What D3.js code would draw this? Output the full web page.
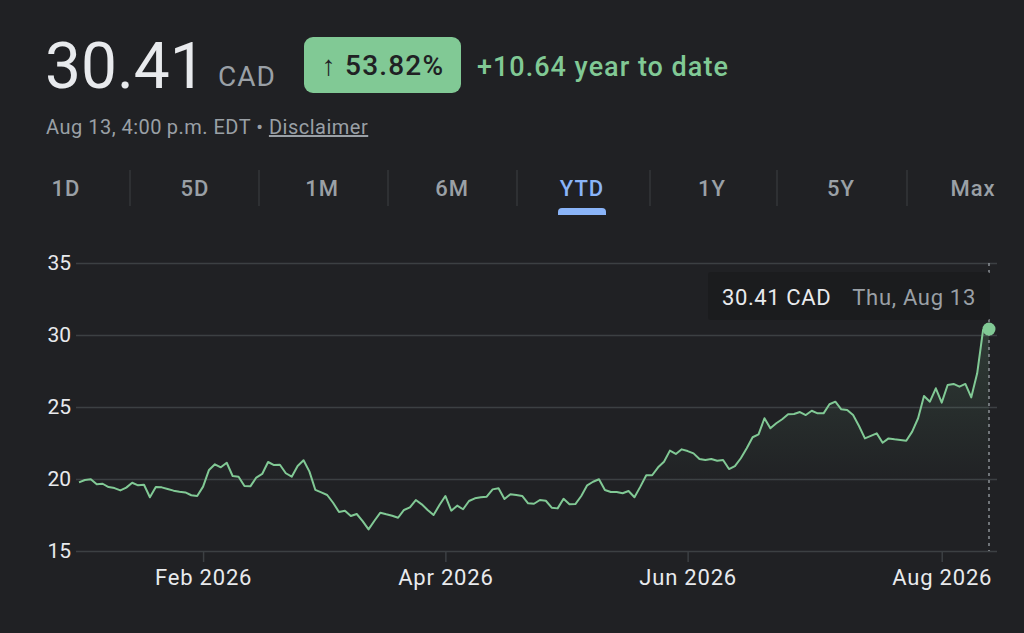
<!DOCTYPE html>
<html>
<head>
<meta charset="utf-8">
<script src="https://cdn.jsdelivr.net/npm/d3@7"></script>
<style>
  html, body { margin: 0; padding: 0; background: #202124; }
  svg { display: block; font-family: Roboto, "Noto Sans", sans-serif; }
</style>
</head>
<body>
<div id="chart"></div>
<script>
// closing prices, one per trading day from Dec 31 to Aug 13
var values = [
  19.77, 19.93, 19.98, 19.63, 19.67, 19.44, 19.37, 19.21, 19.40, 19.74,
  19.56, 19.60, 18.73, 19.44, 19.42, 19.31, 19.19, 19.12, 19.07, 18.87,
  18.82, 19.47, 20.63, 21.02, 20.81, 21.13, 20.21, 20.16, 19.51, 19.49,
  20.10, 20.35, 21.18, 20.97, 20.99, 20.40, 20.16, 20.90, 21.30, 20.51,
  19.24, 19.07, 18.89, 18.35, 17.71, 17.80, 17.43, 17.57, 17.08, 16.50,
  17.10, 17.66, 17.55, 17.45, 17.31, 17.85, 18.03, 18.54, 18.24, 17.85,
  17.50, 18.19, 18.82, 17.80, 18.15, 17.90, 18.47, 18.66, 18.73, 18.77,
  19.28, 19.35, 18.61, 18.94, 18.89, 18.82, 18.31, 18.28, 18.54, 18.49,
  18.01, 17.96, 18.63, 18.24, 18.26, 18.82, 19.56, 19.81, 19.98, 19.24,
  19.10, 19.09, 19.01, 19.17, 18.73, 19.47, 20.26, 20.26, 20.81, 21.20,
  21.97, 21.74, 22.06, 21.94, 21.78, 21.39, 21.32, 21.39, 21.27, 21.32,
  20.69, 20.90, 21.44, 22.13, 22.90, 23.10, 24.22, 23.52, 23.87, 24.15,
  24.49, 24.51, 24.65, 24.44, 24.74, 24.56, 24.56, 25.19, 25.37, 24.84,
  24.79, 24.44, 23.68, 22.82, 22.99, 23.17, 22.52, 22.82, 22.76, 22.71,
  22.66, 23.29, 24.22, 25.76, 25.37, 26.30, 25.30, 26.53, 26.60, 26.41,
  26.60, 25.67, 27.34, 30.35, 30.41
];
// index of the first trading day of each labelled month
var monthTickIdx = [21, 62, 103, 146];
var monthTickLabels = ["Feb 2026", "Apr 2026", "Jun 2026", "Aug 2026"];
var yTicks = [15, 20, 25, 30, 35];
var tabs = ["1D", "5D", "1M", "6M", "YTD", "1Y", "5Y", "Max"];
var activeTab = "YTD";
var price = "30.41";
var currency = "CAD";
var changePct = "53.82%";
var changeAbs = "+10.64";
var lastDate = "Thu, Aug 13";

var W = 1024, H = 633;
var green = "#81c995", grey = "#9aa0a6", grid = "#3c4043", light = "#e8eaed";

var svg = d3.select("#chart").append("svg").attr("width", W).attr("height", H);
svg.append("rect").attr("width", W).attr("height", H).attr("fill", "#202124");

// header
svg.append("text").attr("x", 45).attr("y", 88).attr("fill", light)
    .style("font-size", "64px").text(price);
svg.append("text").attr("x", 218).attr("y", 86).attr("fill", grey)
    .style("font-size", "28px").style("letter-spacing", "1px").text(currency);
svg.append("rect").attr("x", 304).attr("y", 37).attr("width", 157).attr("height", 56)
    .attr("rx", 9).attr("fill", green);
svg.append("text").attr("x", 383).attr("y", 75).attr("text-anchor", "middle")
    .attr("fill", "#202124").style("font-size", "28px").style("font-weight", 500)
    .style("letter-spacing", "1.2px")
    .text("\u2191 " + changePct);
svg.append("text").attr("x", 477).attr("y", 76).attr("fill", green)
    .style("font-size", "27px").style("font-weight", 500).style("letter-spacing", "1px")
    .text(changeAbs + " year to date");

var sub = svg.append("text").attr("x", 46).attr("y", 134).attr("fill", grey)
    .style("font-size", "20px").style("letter-spacing", "0.5px");
sub.append("tspan").text("Aug 13, 4:00\u2009p.m. EDT \u2022 ");
sub.append("tspan").attr("text-decoration", "underline").text("Disclaimer");

// range tabs
var tabCenters = [66, 195, 322, 452, 582, 712, 841, 973];
var seps = [130, 259, 388, 517, 650, 777, 907];
svg.selectAll(".sep").data(seps).enter().append("line")
    .attr("x1", function(d) { return d; }).attr("x2", function(d) { return d; })
    .attr("y1", 170).attr("y2", 206).attr("stroke", grid).attr("stroke-width", 1);
svg.selectAll(".tab").data(tabs).enter().append("text")
    .attr("x", function(d, i) { return tabCenters[i]; }).attr("y", 196)
    .attr("text-anchor", "middle")
    .attr("fill", function(d) { return d === activeTab ? "#8ab4f8" : grey; })
    .style("font-size", "22px").style("font-weight", 500).style("letter-spacing", "1px")
    .text(function(d) { return d; });
var ai = tabs.indexOf(activeTab);
svg.append("path")
    .attr("d", "M" + (tabCenters[ai] - 24) + ",215 v-3 a4,4 0 0 1 4,-4 h40 a4,4 0 0 1 4,4 v3 z")
    .attr("fill", "#8ab4f8");

// chart
var x = d3.scaleLinear().domain([0, values.length - 1]).range([79, 989]);
var y = d3.scaleLinear().domain([15, 35]).range([551, 263]);
var left = 76, right = 997;

var yAxis = d3.axisLeft(y).tickValues(yTicks).tickSize(right - left).tickPadding(5);
var gy = svg.append("g").attr("transform", "translate(" + right + ",0)").call(yAxis);
gy.select(".domain").remove();
gy.selectAll(".tick line").attr("stroke", grid).attr("stroke-width", 1.5);
gy.selectAll(".tick text").attr("fill", light).style("font-size", "21px")
    .style("font-family", "Roboto, sans-serif");

var xAxis = d3.axisBottom(x).tickValues(monthTickIdx).tickSize(11).tickPadding(7)
    .tickFormat(function(d, i) { return monthTickLabels[i]; });
var gx = svg.append("g").attr("transform", "translate(0," + y(15) + ")").call(xAxis);
gx.select(".domain").remove();
gx.selectAll(".tick line").attr("stroke", grid).attr("stroke-width", 1.5);
gx.selectAll(".tick text").attr("fill", light).style("font-size", "22px")
    .style("letter-spacing", "0.8px").style("font-family", "Roboto, sans-serif");

var defs = svg.append("defs");
var grad = defs.append("linearGradient").attr("id", "fade")
    .attr("gradientUnits", "userSpaceOnUse")
    .attr("x1", 0).attr("x2", 0).attr("y1", y(35)).attr("y2", y(19.5));
grad.append("stop").attr("offset", 0).attr("stop-color", green).attr("stop-opacity", 0.22);
grad.append("stop").attr("offset", 1).attr("stop-color", green).attr("stop-opacity", 0);

var area = d3.area()
    .x(function(d, i) { return x(i); })
    .y0(y(15))
    .y1(function(d) { return y(d); });
svg.append("path").datum(values).attr("d", area).attr("fill", "url(#fade)");

var line = d3.line()
    .x(function(d, i) { return x(i); })
    .y(function(d) { return y(d); });
svg.append("path").datum(values).attr("d", line)
    .attr("fill", "none").attr("stroke", green).attr("stroke-width", 2)
    .attr("stroke-linejoin", "round");

var last = values.length - 1;
svg.append("line").attr("x1", x(last)).attr("x2", x(last))
    .attr("y1", y(35)).attr("y2", y(15))
    .attr("stroke", grey).attr("stroke-width", 1.3).attr("stroke-dasharray", "3,4");

// tooltip
var tip = svg.append("g");
tip.append("rect").attr("x", 708).attr("y", 272).attr("width", 282).attr("height", 48)
    .attr("rx", 3).attr("fill", "#1b1c1e");
tip.append("text").attr("x", 722).attr("y", 305).attr("fill", light)
    .style("font-size", "22px").style("letter-spacing", "0.6px")
    .text(values[last].toFixed(2) + " " + currency);
tip.append("text").attr("x", 976).attr("y", 305).attr("text-anchor", "end").attr("fill", grey)
    .style("font-size", "22px").style("letter-spacing", "0.7px").text(lastDate);

svg.append("circle").attr("cx", x(last)).attr("cy", y(values[last])).attr("r", 6.5)
    .attr("fill", green);
</script>
</body>
</html>
